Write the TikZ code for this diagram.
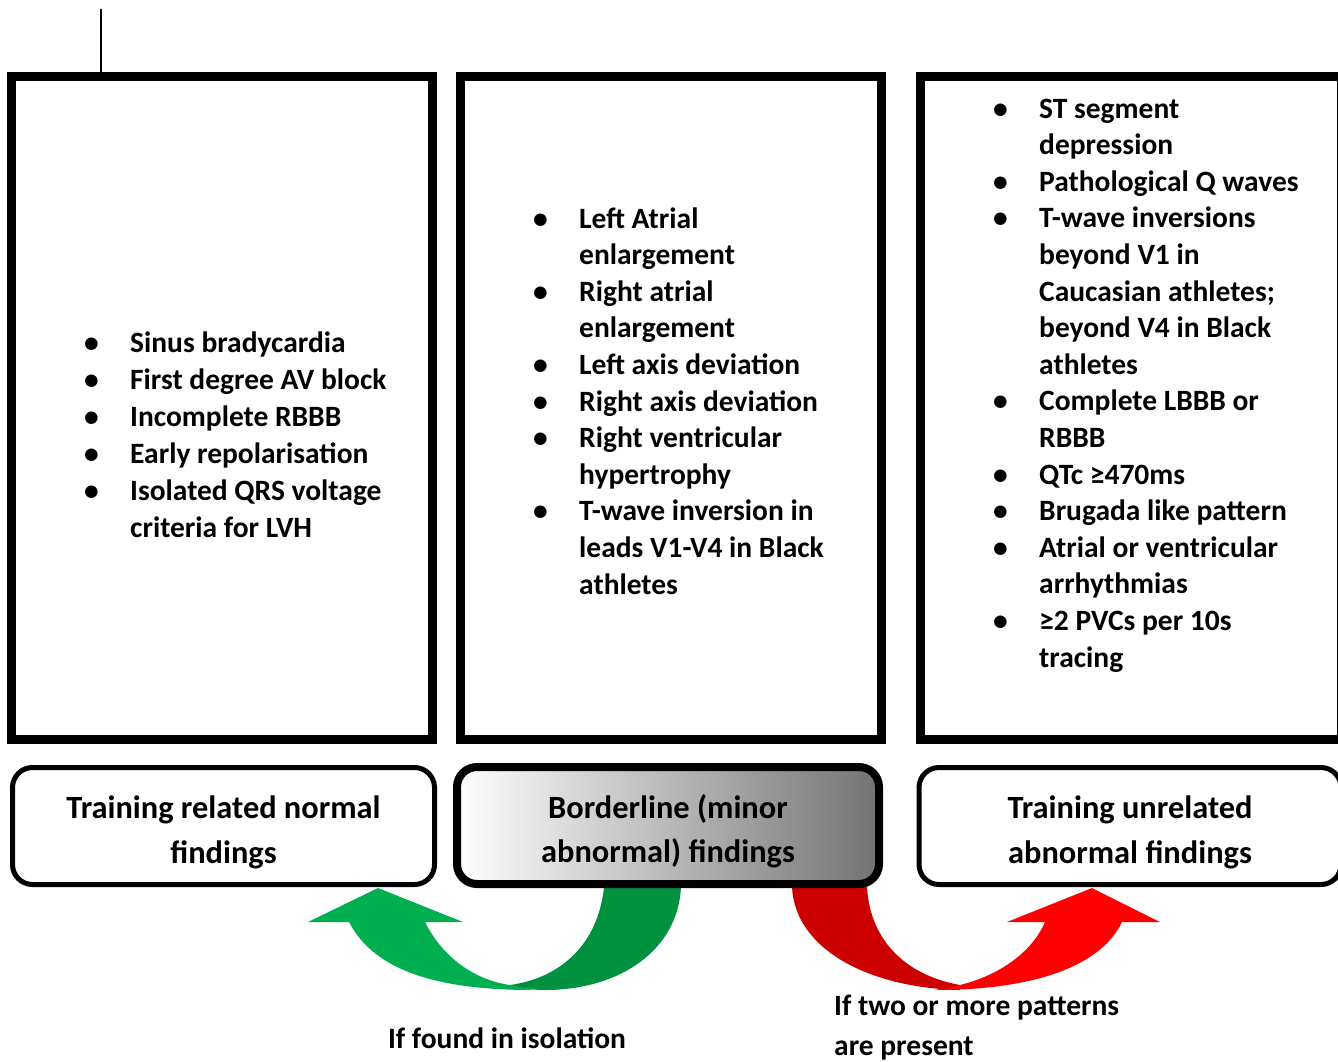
\documentclass[tikz,border=0pt]{standalone}
\usepackage{fontspec}
\setmainfont{Carlito}
\usepackage{tikz}
\usetikzlibrary{positioning}
\definecolor{green_front}{HTML}{00B050}
\definecolor{green_back}{HTML}{00913F}
\definecolor{red_front}{HTML}{FF0000}
\definecolor{red_back}{HTML}{CC0000}
\newcommand{\bul}{\makebox[46pt][l]{\textbullet}}
\newcommand{\gap}{\hspace*{46pt}}
\tikzstyle{listbox} = [draw, line width=9pt, minimum width=421pt, minimum height=663pt, inner sep=0pt]
\tikzstyle{titlebox} = [draw, line width=5pt, rounded corners=20pt, minimum width=422pt, minimum height=117pt, inner sep=0pt, align=center, text height=80pt, text depth=6pt, font=\bfseries\fontsize{32.4}{44.5}\selectfont]
\tikzstyle{listtext} = [anchor=base west, align=left, inner sep=0pt, font=\bfseries\fontsize{29.5}{36.6}\selectfont]
\tikzstyle{note} = [inner sep=0pt, align=left, font=\bfseries\fontsize{29.5}{40}\selectfont]

\begin{document}
\begin{tikzpicture}[x=1pt, y=-1pt]
        \useasboundingbox (0,0) rectangle (1338,1061);

        \fill[green_front] (378,888) -- (463,922) -- (425,922) .. controls (443,958) and (475,980) .. (510,985) -- (533,990) .. controls (440,990) and (375,972) .. (349,922) -- (308,922) -- cycle;
        \fill[green_back] (604,887) .. controls (598,945) and (560,978) .. (510,985) .. controls (525,989) and (535,990) .. (545,990) .. controls (620,990) and (678,950) .. (681,887) -- cycle;
        \fill[red_back] (792,887) .. controls (795,950) and (870,988) .. (960,990) -- (960,985) .. controls (905,975) and (870,940) .. (867,887) -- cycle;
        \fill[red_front] (1092,888) -- (1160,922) -- (1122,922) .. controls (1100,968) and (1030,990) .. (935,990) -- (960,985) .. controls (1000,975) and (1032,952) .. (1045,922) -- (1007,922) -- cycle;

        \node (normal_box) [listbox] at (222,408) {};
        \node (borderline_box) [listbox] at (671,408) {};
        \node (abnormal_box) [listbox] at (1131,408) {};

        \node (normal_title) [titlebox, fill=white, below=21pt of normal_box, xshift=1.5pt] {Training related normal\\findings};
        \node (borderline_title) [titlebox, below=19pt of borderline_box, xshift=-3pt, line width=8pt, left color=white, right color=black!55] {Borderline (minor\\abnormal) findings};
        \node (abnormal_title) [titlebox, fill=white, below=21pt of abnormal_box, xshift=-1pt] {Training unrelated\\abnormal findings};

        \coordinate (tick) at (101,9);
        \draw[line width=2pt] (tick) -- (tick |- normal_box.north);

        \node (normal_list) [listtext, font=\bfseries\fontsize{29.5}{37}\selectfont] at (84,537) {\bul Sinus bradycardia\\ \bul First degree AV block\\ \bul Incomplete RBBB\\ \bul Early repolarisation\\ \bul Isolated QRS voltage\\ \gap criteria for LVH};
        \node (borderline_list) [listtext] at (533,594) {\bul Left Atrial\\ \gap enlargement\\ \bul Right atrial\\ \gap enlargement\\ \bul Left axis deviation\\ \bul Right axis deviation\\ \bul Right ventricular\\ \gap hypertrophy\\ \bul T-wave inversion in\\ \gap leads V1-V4 in Black\\ \gap athletes};
        \node (abnormal_list) [listtext] at (993,667) {\bul ST segment\\ \gap depression\\ \bul Pathological Q waves\\ \bul T-wave inversions\\ \gap beyond V1 in\\ \gap Caucasian athletes;\\ \gap beyond V4 in Black\\ \gap athletes\\ \bul Complete LBBB or\\ \gap RBBB\\ \bul QTc ≥470ms\\ \bul Brugada like pattern\\ \bul Atrial or ventricular\\ \gap arrhythmias\\ \bul ≥2 PVCs per 10s\\ \gap tracing};

        \node (isolation_note) [note, anchor=base] at (507,1048) {If found in isolation};
        \node (patterns_note) [note, anchor=base west] at (834,1055) {If two or more patterns\\are present};
\end{tikzpicture}
\end{document}
